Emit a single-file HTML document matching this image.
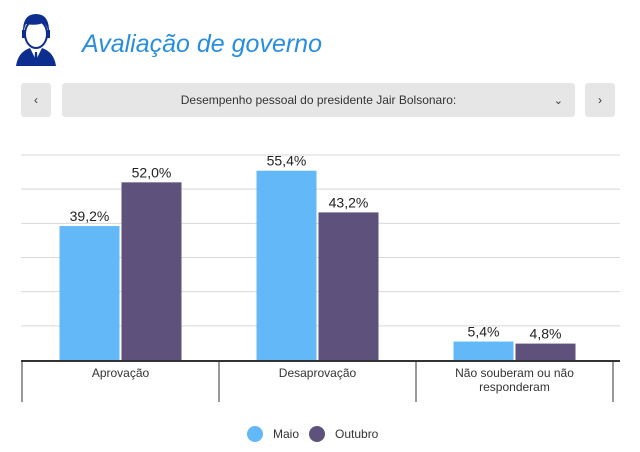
<!DOCTYPE html>
<html><head><meta charset="utf-8"><style>
body{margin:0;width:640px;height:452px;background:#fff;font-family:"Liberation Sans",sans-serif;overflow:hidden;position:relative}
.btn{position:absolute;top:83px;height:34px;background:#e6e6e6;border-radius:3px;color:#333;font-size:12px;display:flex;align-items:center;justify-content:center}
</style></head><body>
<svg style="position:absolute;left:16px;top:12px" width="40" height="54" viewBox="0 0 40 54">
<path d="M0 54 Q2 40 14 36 L20 48 L26 36 Q38 40 40 54Z" fill="#0d2d8f"/>
<path d="M17 38 L20 50 L23 38Z" fill="#fff"/>
<path d="M19 40 L21 40 L21.5 48 L20 50 L18.5 48Z" fill="#0d2d8f"/>
<ellipse cx="20" cy="22" rx="11" ry="14" fill="#fff" stroke="#0d2d8f" stroke-width="2"/>
<path d="M7 22 Q6 2 20 2 Q34 2 33 22 Q31 12 27 11 Q20 14 10 12 Q8 16 7 22Z" fill="#0d2d8f"/>
<rect x="6" y="18" width="3" height="8" fill="#0d2d8f"/><rect x="31" y="18" width="3" height="8" fill="#0d2d8f"/>
</svg>
<div style="position:absolute;left:82px;top:30px;font-size:25px;font-style:italic;color:#2a8ee0">Avaliação de governo</div>
<div class="btn" style="left:21px;width:30px">‹</div>
<div class="btn" style="left:62px;width:513px">Desempenho pessoal do presidente Jair Bolsonaro:<span style="position:absolute;right:12px;font-size:11px">⌄</span></div>
<div class="btn" style="left:585px;width:30px">›</div>
<svg id="chart" style="position:absolute;left:0;top:0" width="640" height="452"></svg>
<script>
const categories=[["Aprovação"],["Desaprovação"],["Não souberam ou não","responderam"]];
const maio=[39.2,55.4,5.4];
const outubro=[52.0,43.2,4.8];
const seriesNames=["Maio","Outubro"];
const ticks=[0,10,20,30,40,50,60];
const NS="http://www.w3.org/2000/svg",svg=document.getElementById('chart');
const x0=22,cw=197,base=360,yTop=155,maxV=60;
const y=v=>base-(base-yTop)*v/maxV;
function mk(t,a,p){const e=document.createElementNS(NS,t);for(const k in a)e.setAttribute(k,a[k]);(p||svg).appendChild(e);return e;}
ticks.forEach(t=>{if(t===0)return;const l=mk('line',{x1:21,x2:620,y1:y(t),y2:y(t),stroke:'#d8d8d8','stroke-width':1});

});
const colors=['#63b8f8','#5e527c'];
[maio,outubro].forEach((s,si)=>s.forEach((v,i)=>{
 const cx=x0+cw*i+cw/2,bx=si===0?cx-61:cx+1;
 const r=mk('rect',{x:bx,y:y(v),width:60,height:base-y(v),fill:colors[si]});
 
 
 const t=mk('text',{x:bx+30,y:y(v)-5,'text-anchor':'middle','font-size':14,fill:'#222'});
 t.textContent=v.toFixed(1).replace('.',',')+'%';
 
 
}));
const ax=mk('line',{x1:21,x2:620,y1:base+1,y2:base+1,stroke:'#333','stroke-width':2});


for(let i=0;i<=categories.length;i++){const l=mk('line',{x1:x0+cw*i,x2:x0+cw*i,y1:base,y2:402,stroke:'#333','stroke-width':1});

}
categories.forEach((c,i)=>c.forEach((ln,j)=>{const t=mk('text',{x:x0+cw*i+cw/2,y:377+j*14,'text-anchor':'middle','font-size':12,fill:'#333'});t.textContent=ln;

}));
const lg=[[255,'Maio'],[317,'Outubro']];
lg.forEach((d,i)=>{const g=mk('g',{});


mk('circle',{cx:d[0],cy:434,r:8,fill:colors[i]},g);
const t=mk('text',{x:d[0]+18,y:438,'font-size':12,fill:'#333'},g);t.textContent=d[1];});
</script>
</body></html>
